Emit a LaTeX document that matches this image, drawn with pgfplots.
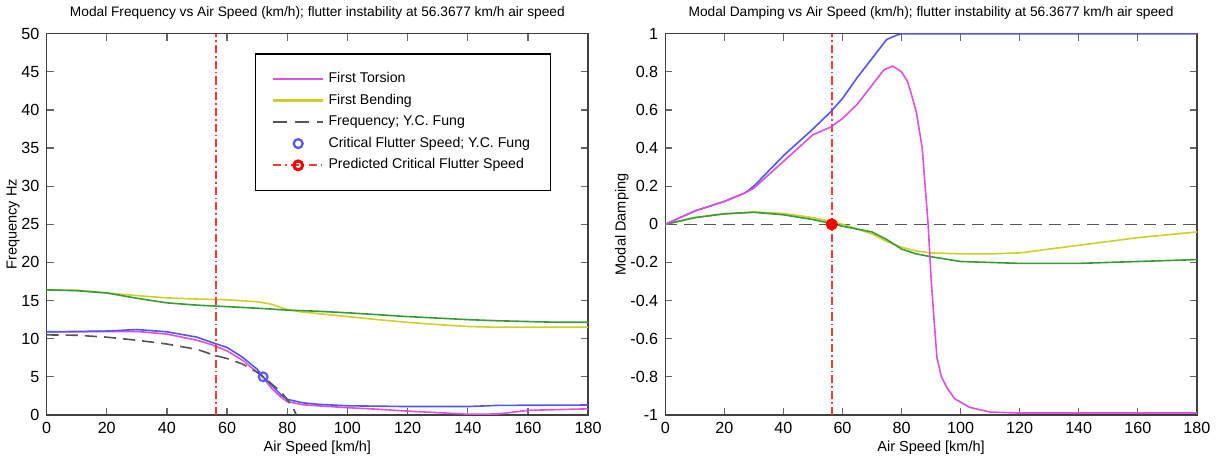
\documentclass[border=0pt]{standalone}
\usepackage{fontspec}
\setmainfont{Liberation Sans}
\usepackage{pgfplots}
\pgfplotsset{compat=1.18}

\definecolor{cTors}{RGB}{222,80,222}
\definecolor{cBend}{RGB}{208,206,40}
\definecolor{cGreen}{RGB}{55,155,55}
\definecolor{cBlue}{RGB}{85,85,240}
\definecolor{cFung}{RGB}{85,85,85}
\definecolor{cRed}{RGB}{240,60,60}

\pgfplotsset{
  matlab/.style={
    scale only axis,
    xmin=0, xmax=180,
    xtick={0,20,...,180},
    tick align=inside,
    major tick length=3.5pt,
    axis line style={line width=0.7pt, black!75},
    tick style={line width=0.6pt, black!60},
    every tick label/.append style={font=\fontsize{8}{9}\selectfont},
    /pgf/number format/assume math mode=true,
    label style={font=\fontsize{7.2}{8}\selectfont},
    title style={font=\fontsize{6.8}{8}\selectfont, yshift=-2.5pt},
    xlabel={Air Speed [km/h]},
    xlabel style={yshift=3pt},
  },
  ln/.style={line width=0.8pt},
  legline/.style 2 args={legend image code/.code={
    \draw[draw=#1, line width=1.1pt, #2] (0pt,0pt)--(25pt,0pt);}},
  dashdot/.style={dash pattern=on 4pt off 1.5pt on 0.8pt off 1.5pt},
}

\begin{document}
\begin{tikzpicture}
% ---------- left: modal frequency ----------
\begin{axis}[matlab,
    at={(0pt,0pt)},
    width=268.5pt, height=189pt,
    ymin=0, ymax=50,
    ytick={0,5,...,50},
    ylabel={Frequency Hz},
    ylabel style={yshift=-6pt},
    title={Modal Frequency vs Air Speed (km/h); flutter instability at 56.3677 km/h air speed},
    legend style={at={(0.931,0.947)}, anchor=north east, yshift=0.25pt,
      font=\fontsize{7}{8}\selectfont, draw=black, line width=0.6pt,
      inner xsep=8pt, inner ysep=7pt, row sep=0.2pt,
      cells={anchor=west}},
    legend cell align=left,
]
\addplot[ln, draw=cTors, legline={cTors}{solid}] coordinates {
(0,10.9)(10,10.9)(20,10.95)(30,10.95)(40,10.6)(50,9.8)(55,9.2)(60,8.4)(65,7.2)
(70,5.6)(72,4.9)(75,3.4)(78,2.3)(80,1.75)(85,1.35)(90,1.2)(100,0.95)(110,0.75)
(120,0.5)(130,0.3)(140,0.1)(150,0.12)(160,0.6)(170,0.7)(180,0.8)};
\addlegendentry{First Torsion}
\addplot[ln, draw=cBend, legline={cBend}{solid}] coordinates {
(0,16.4)(10,16.35)(20,16.0)(30,15.65)(40,15.35)(50,15.2)(60,15.1)(70,14.85)(75,14.5)
(80,13.8)(85,13.5)(90,13.3)(100,12.9)(110,12.5)(120,12.15)(130,11.85)(140,11.6)
(150,11.5)(160,11.5)(180,11.5)};
\addlegendentry{First Bending}
\addplot[ln, draw=cBlue, forget plot] coordinates {
(0,10.9)(10,10.95)(20,11.0)(30,11.2)(40,10.9)(50,10.2)(55,9.5)(60,8.85)(65,7.6)
(70,6.0)(72,5.0)(75,3.8)(78,2.6)(80,2.05)(85,1.6)(90,1.4)(100,1.2)(120,1.1)
(140,1.1)(150,1.25)(160,1.27)(180,1.3)};
\addplot[ln, draw=cGreen, forget plot] coordinates {
(0,16.4)(10,16.3)(20,16.0)(30,15.3)(40,14.7)(50,14.4)(60,14.2)(70,14.0)(80,13.75)
(90,13.6)(100,13.4)(110,13.15)(120,12.9)(130,12.7)(140,12.5)(150,12.35)(160,12.25)
(170,12.15)(180,12.15)};
\addplot[ln, draw=cFung, dash pattern=on 6pt off 3.5pt, legline={cFung}{dash pattern=on 7pt off 4pt}] coordinates {
(0,10.5)(10,10.45)(20,10.2)(30,9.8)(40,9.3)(50,8.6)(56,7.8)(60,7.4)(65,6.7)
(70,5.6)(72,5.0)(75,4.0)(78,3.0)(80,2.0)(82,0.9)(83,0)};
\addlegendentry{Frequency; Y.C. Fung}
\addplot[only marks, mark=o, mark size=2.2pt, mark options={draw=cBlue, line width=1pt},
  legend image code/.code={\draw[draw=cBlue, line width=1.1pt] (12.5pt,0pt) circle (2.2pt);}]
  coordinates {(72,5)};
\addlegendentry{Critical Flutter Speed; Y.C. Fung}
\addplot[ln, draw=cRed, dashdot,
  legend image code/.code={
    \draw[draw=cRed, line width=1.1pt, dash pattern=on 4pt off 2pt on 0.8pt off 2pt] (0pt,0pt)--(25pt,0pt);
    \draw[draw=red, solid, line width=1.5pt] (12.5pt,0pt) circle (2.2pt);}]
  coordinates {(56.3677,0)(56.3677,50)};
\addlegendentry{Predicted Critical Flutter Speed}
\end{axis}

% ---------- right: modal damping ----------
\begin{axis}[matlab,
    at={(306.75pt,0pt)},
    width=263.5pt, height=189pt,
    ymin=-1, ymax=1,
    ytick={-1,-0.8,-0.6,-0.4,-0.2,0,0.2,0.4,0.6,0.8,1},
    yticklabels={-1,-0.8,-0.6,-0.4,-0.2,0,0.2,0.4,0.6,0.8,1},
    ylabel={Modal Damping},
    ylabel style={yshift=-6pt},
    title={Modal Damping vs Air Speed (km/h); flutter instability at 56.3677 km/h air speed},
]
\addplot[line width=0.95pt, draw=cRed, dashdot] coordinates {(56.3677,-1)(56.3677,1)};
\addplot[ln, draw=cFung, dash pattern=on 6pt off 3.5pt] coordinates {(0,0)(180,0)};
\addplot[ln, draw=cBend] coordinates {
(0,0)(10,0.035)(20,0.055)(30,0.065)(40,0.057)(50,0.035)(56,0.015)(60,0.0)(65,-0.025)
(70,-0.05)(75,-0.09)(80,-0.12)(85,-0.14)(90,-0.15)(100,-0.155)(110,-0.155)(120,-0.15)
(130,-0.13)(140,-0.11)(150,-0.09)(160,-0.07)(170,-0.055)(180,-0.04)};
\addplot[ln, draw=cGreen] coordinates {
(0,0)(10,0.035)(20,0.055)(30,0.063)(40,0.05)(50,0.025)(56,0.005)(60,-0.01)(65,-0.025)
(70,-0.04)(75,-0.08)(80,-0.13)(85,-0.155)(90,-0.17)(100,-0.195)(110,-0.2)(120,-0.205)
(140,-0.205)(160,-0.195)(180,-0.185)};
\addplot[ln, draw=cBlue] coordinates {
(0,0)(10,0.07)(20,0.12)(27,0.165)(30,0.2)(35,0.28)(40,0.36)(45,0.43)(50,0.5)(56,0.59)
(60,0.66)(65,0.77)(70,0.87)(75,0.97)(78,0.99)(80,1)(180,1)};
\addplot[ln, draw=cTors] coordinates {
(0,0)(10,0.07)(20,0.12)(27,0.165)(30,0.19)(35,0.26)(40,0.33)(45,0.4)(50,0.47)(56,0.51)
(60,0.555)(65,0.63)(70,0.73)(74,0.81)(77,0.83)(80,0.8)(82,0.75)(83,0.7)(85,0.59)
(87,0.4)(88,0.2)(89,0)(90,-0.28)(91,-0.5)(92,-0.7)(93.5,-0.8)(95.5,-0.86)(98,-0.915)
(103,-0.96)(110,-0.985)(120,-0.99)(180,-0.99)};
\addplot[only marks, mark=*, mark size=2.8pt, mark options={fill=red, draw=red}] coordinates {(56.3677,0)};
\end{axis}
\end{tikzpicture}
\end{document}
